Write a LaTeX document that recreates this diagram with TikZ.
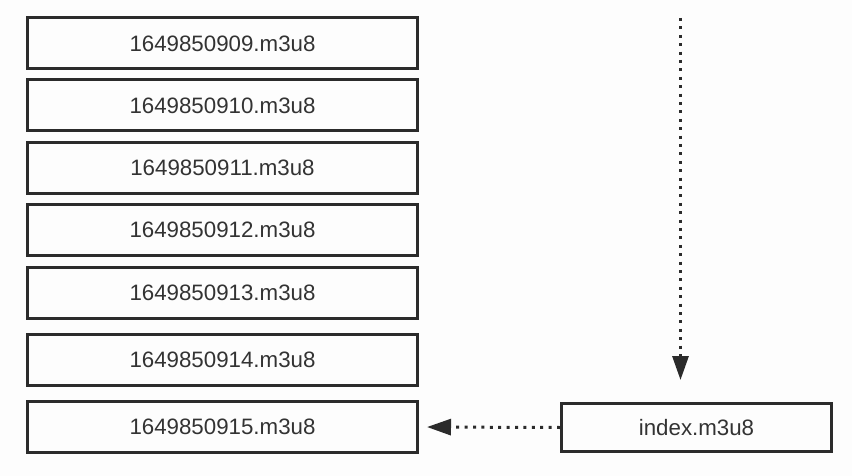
\documentclass[tikz,border=0pt]{standalone}
\usepackage{fontspec}
\setmainfont{Liberation Sans}
\usetikzlibrary{arrows.meta}
\definecolor{edge}{HTML}{2B2B2B}
\definecolor{txt}{HTML}{333333}
\definecolor{bg}{HTML}{FDFDFD}
\begin{document}
\begin{tikzpicture}[x=1pt,y=-1pt,
  filebox/.style={draw=edge, line width=3pt, minimum width=390pt, minimum height=51pt,
    inner sep=0pt, text=txt, font=\fontsize{22.3}{25}\selectfont, anchor=center},
  idxbox/.style={filebox, minimum width=270pt, minimum height=48pt},
  dotline/.style={draw=edge, line width=3pt, dash pattern=on 3pt off 5.4pt,
    -{Triangle[length=24pt,width=16pt]}}]
\fill[bg] (0,0) rectangle (852,476);
\useasboundingbox (0,0) rectangle (852,476);
\node[filebox] (b1) at (222.5,43.5) {1649850909.m3u8};
\node[filebox] (b2) at (222.5,105.5) {1649850910.m3u8};
\node[filebox] (b3) at (222.5,168) {1649850911.m3u8};
\node[filebox] (b4) at (222.5,230) {1649850912.m3u8};
\node[filebox] (b5) at (222.5,293) {1649850913.m3u8};
\node[filebox] (b6) at (222.5,360) {1649850914.m3u8};
\node[filebox] (b7) at (222.5,427) {1649850915.m3u8};
\node[idxbox] (idx) at (696.5,427.5) {index.m3u8};
\coordinate (top) at (680.5,18);
\coordinate (tip) at (680.5,380);
\draw[dotline] (top) -- (tip);
\draw[dotline, shorten >=8pt] (idx.west) -- (b7.east);
\end{tikzpicture}
\end{document}
